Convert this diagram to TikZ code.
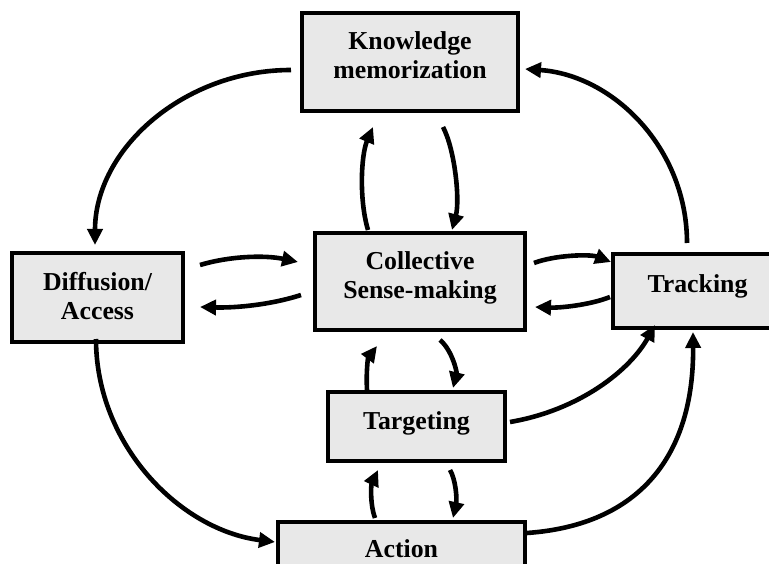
\documentclass[tikz,border=0pt]{standalone}
\usepackage{fontspec}
\setmainfont{Liberation Serif}
\usetikzlibrary{arrows.meta,calc}
\definecolor{boxgray}{RGB}{232,232,232}
\begin{document}
\begin{tikzpicture}[x=1pt,y=-1pt,
  box/.style={draw=black, fill=boxgray, line width=4pt, inner sep=0pt},
  lbl/.style={inner sep=0pt, align=center, font=\bfseries\fontsize{25.8}{29}\selectfont},
  conn/.style={line width=4.6pt, -{Triangle[length=16pt,width=15pt]}}
 ]
\useasboundingbox (0,0) rectangle (769,564);
\clip (0,0) rectangle (769,564);
% boxes
\node[box, minimum width=216pt, minimum height=98pt] (km) at (410,62) {};
\node[lbl] (kmt) at ($(km.center)+(0,-7)$) {Knowledge\\memorization};
\node[box, minimum width=210pt, minimum height=97pt] (cs) at (420,281.5) {};
\node[lbl] (cst) at ($(cs.center)+(0,-3.5)$) {Collective\\Sense-making};
\node[box, minimum width=171pt, minimum height=89pt] (da) at (97.5,297.5) {};
\node[lbl] (dat) at ($(da.center)+(0,-1.5)$) {Diffusion/\\Access};
\node[box, minimum width=169pt, minimum height=74pt] (tr) at (697.5,291) {};
\node[lbl] (trt) at ($(tr.center)+(0,-5)$) {Tracking};
\node[box, minimum width=177pt, minimum height=69pt] (tg) at (416.5,426.5) {};
\node[lbl] (tgt) at ($(tg.center)+(0,-3.5)$) {Targeting};
\node[box, minimum width=247pt, minimum height=54pt] (ac) at (401.5,549) {};
\node[lbl] (act) at (ac.center) {Action};
% connectors
\draw[conn] ($(km.west)+(-9,8)$) .. controls (184,70) and (95,149) .. ($(da.north)+(-2.5,-6)$);
\draw[conn] ($(tr.north)+(-10.5,-9)$) .. controls (687,148) and (613,75) .. ($(km.east)+(5,7)$);
\draw[conn] ($(cs.north)+(-52,-1)$) .. controls (359,200) and (361,155) .. ($(km.south)+(-37,14)$);
\draw[conn] ($(km.south)+(33,14)$) .. controls (455,150) and (460,200) .. ($(cs.north)+(32,-1)$);
\draw[conn] ($(da.east)+(15,-32.5)$) .. controls (230,256) and (265,255) .. ($(cs.west)+(-15,-19.5)$);
\draw[conn] ($(cs.west)+(-12,13.5)$) .. controls (270,305) and (235,308) .. ($(da.east)+(15,9.5)$);
\draw[conn] ($(cs.east)+(7,-18.5)$) .. controls (555,255) and (590,254) .. ($(tr.west)+(0,-29)$);
\draw[conn] ($(tr.west)+(-1,6)$) .. controls (590,305) and (560,308) .. ($(cs.east)+(8,25.5)$);
\draw[conn] ($(tg.north)+(-49.5,0)$) .. controls (366,372) and (368,358) .. ($(cs.south)+(-43,14)$);
\draw[conn] ($(cs.south)+(20,8)$) .. controls (452,350) and (457,372) .. ($(tg.north)+(36.5,-2)$);
\draw[conn] ($(ac.north)+(-26.5,-2)$) .. controls (370,505) and (371,485) .. ($(tg.south)+(-38.5,7)$);
\draw[conn] ($(tg.south)+(33.5,7)$) .. controls (456,480) and (457,500) .. ($(ac.north)+(51.5,-2)$);
\draw[conn] ($(da.south)+(-1.5,-5)$) .. controls (96,445) and (180,530) .. ($(ac.west)+(-1,-7)$);
\draw[conn] ($(ac.east)+(0,-16)$) .. controls (640,525) and (694,455) .. ($(tr.south)+(-4.5,2)$);
\draw[conn] ($(tg.east)+(3,-4.5)$) .. controls (580,410) and (630,370) .. ($(tr.south)+(-42.5,-5)$);
\end{tikzpicture}
\end{document}
